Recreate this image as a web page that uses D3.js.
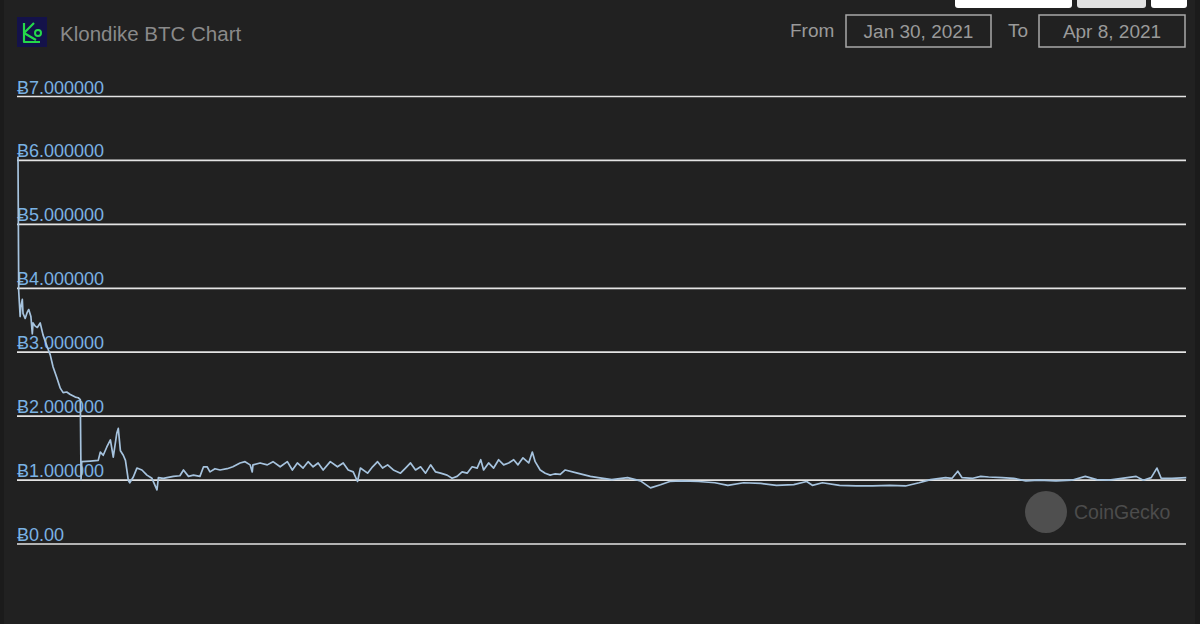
<!DOCTYPE html>
<html><head><meta charset="utf-8">
<script src="https://cdn.jsdelivr.net/npm/d3@7"></script>
<style>
html,body{margin:0;padding:0;background:#212121;}
svg{display:block;}
</style></head>
<body>
<svg id="c" width="1200" height="624"></svg>
<script>
const title = "Klondike BTC Chart";
const fromLabel = "From", toLabel = "To";
const fromDate = "Jan 30, 2021", toDate = "Apr 8, 2021";
const startTime = new Date(2021, 0, 30, 0, 0);
const endTime = new Date(2021, 3, 8, 0, 0);
const tickValues = [0, 1, 2, 3, 4, 5, 6, 7];
const tickLabels = ["Ƀ0.00", "Ƀ1.000000", "Ƀ2.000000", "Ƀ3.000000", "Ƀ4.000000", "Ƀ5.000000", "Ƀ6.000000", "Ƀ7.000000"];
// hours since Jan 30, 2021 00:00
const hours = [0,1,3,4,6,7,10,13,15,18,20,21,24,27,31,35,41,45,49,54,59,63,68,73,80,84,87,88,89,101,112,115,119,124,129,133,138,140,143,147,150,154,156,161,166,173,180,187,194,196,203,208,217,226,231,238,245,254,259,264,268,275,282,292,300,310,317,324,327,328,338,348,356,366,376,383,390,398,405,412,419,426,436,446,454,461,468,474,478,488,495,502,509,516,524,534,541,548,555,562,569,576,583,590,599,606,613,620,627,634,641,646,650,657,664,671,678,685,692,698,705,713,718,722,729,736,743,746,750,757,764,781,799,810,829,851,869,883,897,910,926,950,973,991,1013,1037,1059,1083,1101,1109,1123,1147,1170,1193,1217,1239,1258,1274,1295,1304,1312,1318,1333,1344,1355,1374,1390,1407,1425,1449,1471,1490,1506,1523,1541,1561,1571,1582,1590,1596,1611,1631];
const prices = [6.05,3.95,3.55,3.70,3.82,3.60,3.52,3.62,3.66,3.55,3.28,3.45,3.40,3.38,3.45,3.26,3.07,2.95,2.76,2.60,2.43,2.36,2.37,2.33,2.29,2.28,2.25,1.00,1.28,1.29,1.30,1.43,1.38,1.51,1.62,1.35,1.73,1.80,1.45,1.38,1.30,0.99,0.95,1.04,1.18,1.15,1.07,1.02,0.84,1.03,1.02,1.03,1.05,1.06,1.15,1.05,1.07,1.05,1.20,1.20,1.12,1.17,1.15,1.17,1.20,1.26,1.28,1.23,1.12,1.23,1.26,1.23,1.28,1.20,1.28,1.15,1.26,1.18,1.28,1.20,1.26,1.15,1.28,1.20,1.26,1.15,1.12,0.97,1.18,1.10,1.20,1.28,1.18,1.23,1.15,1.10,1.18,1.26,1.15,1.20,1.10,1.23,1.12,1.10,1.07,1.02,1.05,1.12,1.10,1.20,1.18,1.31,1.15,1.26,1.18,1.31,1.23,1.26,1.31,1.23,1.34,1.26,1.43,1.28,1.15,1.10,1.07,1.08,1.09,1.08,1.15,1.10,1.05,1.03,1.00,1.03,0.98,0.87,0.92,0.97,0.98,0.97,0.95,0.91,0.95,0.94,0.91,0.92,0.97,0.91,0.95,0.91,0.90,0.90,0.91,0.90,0.95,1.00,1.03,1.02,1.13,1.03,1.02,1.05,1.04,1.03,1.02,0.98,0.99,0.98,0.99,1.05,1.00,0.99,1.02,1.05,0.99,1.03,1.18,1.02,1.02,1.03];

const data = hours.map((h, i) => ({t: new Date(startTime.getTime() + h * 3600e3), v: prices[i]}));

const svg = d3.select("#c");
const W = 1200, H = 624;
svg.append("rect").attr("width", W).attr("height", H).attr("fill", "#212121");
svg.append("rect").attr("x", 0).attr("width", 4).attr("height", H).attr("fill", "#1b1b1b");
svg.append("rect").attr("x", W - 5).attr("width", 5).attr("height", H).attr("fill", "#1b1b1b");

const font = "'Liberation Sans', Arial, 'DejaVu Sans', sans-serif";

// top buttons (partially visible)
const btns = [[955, 117, "#ffffff"], [1077, 69, "#e2e2e2"], [1151, 36, "#ffffff"]];
btns.forEach(b => {
  svg.append("rect").attr("x", b[0]).attr("y", -6).attr("width", b[1]).attr("height", 14)
     .attr("rx", 3).attr("fill", b[2]);
});

// logo
const logo = svg.append("g").attr("transform", "translate(17,17)");
logo.append("rect").attr("width", 30).attr("height", 30).attr("fill", "#14124a");
logo.append("path").attr("d", "M7,6 L7,25 L23,25 M7,16 L17,6 M7,16 L19,23")
  .attr("fill", "none").attr("stroke", "#25d84a").attr("stroke-width", 2.2).attr("stroke-linejoin", "round");
logo.append("circle").attr("cx", 21).attr("cy", 16).attr("r", 3).attr("fill", "none").attr("stroke", "#25d84a").attr("stroke-width", 2);

svg.append("text").attr("x", 60).attr("y", 41).text(title)
  .attr("font-family", font).attr("font-size", 20.5).attr("fill", "#8a8a8a");

// date range
const dateFont = 19;
svg.append("text").attr("x", 790).attr("y", 37).text(fromLabel)
  .attr("font-family", font).attr("font-size", dateFont).attr("fill", "#9a9a9a");
svg.append("rect").attr("x", 846).attr("y", 15).attr("width", 145).attr("height", 32)
  .attr("fill", "none").attr("stroke", "#a8a8a8").attr("stroke-width", 1.5);
svg.append("text").attr("x", 918.5).attr("y", 37.5).attr("text-anchor", "middle").text(fromDate)
  .attr("font-family", font).attr("font-size", dateFont).attr("fill", "#9a9a9a");
svg.append("text").attr("x", 1008).attr("y", 37).text(toLabel)
  .attr("font-family", font).attr("font-size", dateFont).attr("fill", "#9a9a9a");
svg.append("rect").attr("x", 1039).attr("y", 15).attr("width", 146).attr("height", 32)
  .attr("fill", "none").attr("stroke", "#a8a8a8").attr("stroke-width", 1.5);
svg.append("text").attr("x", 1112).attr("y", 37.5).attr("text-anchor", "middle").text(toDate)
  .attr("font-family", font).attr("font-size", dateFont).attr("fill", "#9a9a9a");

// scales
const x = d3.scaleTime().domain([startTime, endTime]).range([18, 1187]);
const y = d3.scaleLinear().domain([0, 7]).range([543.5, 96]);

// watermark
svg.append("circle").attr("cx", 1046).attr("cy", 512).attr("r", 21).attr("fill", "#4f4f4f");
svg.append("text").attr("x", 1074).attr("y", 519).text("CoinGecko")
  .attr("font-family", font).attr("font-size", 19.5).attr("fill", "#4c4c4c");

// grid + labels via axis
const axis = d3.axisRight(y).tickValues(tickValues)
  .tickFormat((d, i) => tickLabels[i]).tickSize(1169).tickPadding(0);
const ag = svg.append("g").attr("transform", "translate(17,0)").call(axis);
ag.select(".domain").remove();
ag.selectAll(".tick line").attr("stroke", "#e4e4e4").attr("stroke-width", 1.7);
ag.selectAll(".tick text").attr("x", 0).attr("y", -3).attr("dy", 0).attr("text-anchor", "start")
  .attr("font-family", font).attr("font-size", 18).attr("fill", "#7ab2e4");

// line
const line = d3.line().x(d => x(d.t)).y(d => y(d.v)).curve(d3.curveLinear);
svg.append("path").datum(data).attr("d", line)
  .attr("fill", "none").attr("stroke", "#a6c3de").attr("stroke-width", 1.7).attr("stroke-linejoin", "round");
</script>
</body></html>
